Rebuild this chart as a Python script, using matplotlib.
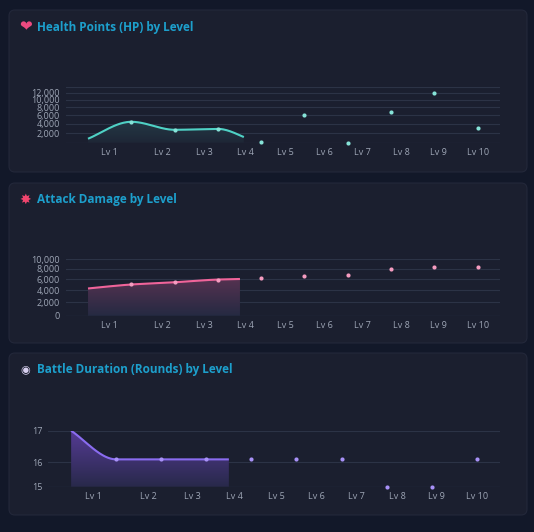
import numpy as np
import matplotlib
matplotlib.use('Agg')
import matplotlib.pyplot as plt
from matplotlib.patches import FancyBboxPatch, PathPatch
from matplotlib.colors import LinearSegmentedColormap

# data
levels = ['Lv 1', 'Lv 2', 'Lv 3', 'Lv 4', 'Lv 5', 'Lv 6', 'Lv 7', 'Lv 8', 'Lv 9', 'Lv 10']
hp = [800, 4500, 2700, 2900, 200, 6100, 0, 6900, 11900, 3100]
attack = [4300, 5000, 5400, 5900, 6100, 6600, 6700, 7900, 8400, 8400]
duration = [17, 16.1, 16.1, 16.1, 16.1, 16.1, 16.1, 15, 15, 16.1]

hp_ticks = [2000, 4000, 6000, 8000, 10000, 12000]
attack_ticks = [0, 2000, 4000, 6000, 8000, 10000]
duration_ticks = [15, 16, 17]

# layout (pixels)
W, H = 534, 532
BG = '#121829'
PANEL = '#1b1f2f'
GRID = '#2c3346'
TXT = '#9ea6b6'
TITLE = '#1d9fcc'
tick_pos = [0.5, 1.72, 2.68, 3.63, 4.55, 5.45, 6.34, 7.23, 8.1, 9.0]

plt.rcParams['font.family'] = ['Open Sans', 'DejaVu Sans']

fig = plt.figure(figsize=(W / 100, H / 100), dpi=100, facecolor=BG)
bg = fig.add_axes([0, 0, 1, 1])
bg.set_xlim(0, W)
bg.set_ylim(H, 0)
bg.axis('off')


def monotone(xs, ys, n=40):
    # monotone cubic (like d3 curveMonotoneX), only for drawing the line
    xs = np.asarray(xs, float)
    ys = np.asarray(ys, float)
    h = np.diff(xs)
    d = np.diff(ys) / h
    m = np.zeros_like(ys)
    m[0], m[-1] = d[0], d[-1]
    for i in range(1, len(ys) - 1):
        if d[i - 1] * d[i] > 0:
            m[i] = 3 * (h[i - 1] + h[i]) / ((2 * h[i] + h[i - 1]) / d[i - 1] + (h[i] + 2 * h[i - 1]) / d[i])
    px, py = [], []
    for i in range(len(h)):
        t = np.linspace(0, 1, n)
        h00 = 2 * t**3 - 3 * t**2 + 1
        h10 = t**3 - 2 * t**2 + t
        h01 = -2 * t**3 + 3 * t**2
        h11 = t**3 - t**2
        px.append(xs[i] + t * h[i])
        py.append(h00 * ys[i] + h10 * h[i] * m[i] + h01 * ys[i + 1] + h11 * h[i] * m[i + 1])
    return np.concatenate(px), np.concatenate(py)


def panel(y0, y1, title, icon, icon_color, icon_size):
    bg.add_patch(FancyBboxPatch((9, y0), 518, y1 - y0, boxstyle='round,pad=0,rounding_size=6',
                                fc=PANEL, ec='#23283a', lw=0.8))
    ty = y0 + 17
    bg.text(25.5, ty, icon, color=icon_color, fontsize=icon_size, ha='center', va='center',
            family=['DejaVu Sans', 'Noto Sans CJK SC', 'Noto Sans'])
    bg.text(37, ty, title, color=TITLE, fontsize=8.5, fontweight='bold', ha='left', va='center')


def make_ax(left, right, top, bottom):
    ax = fig.add_axes([left / W, 1 - bottom / H, (right - left) / W, (bottom - top) / H])
    ax.set_facecolor('none')
    for s in ax.spines.values():
        s.set_visible(False)
    ax.set_xlim(-0.52, 9.51)
    ax.set_xticks(tick_pos)
    ax.set_xticklabels(levels)
    ax.tick_params(axis='both', length=0, colors=TXT, labelsize=6.5)
    ax.tick_params(axis='x', pad=4)
    ax.tick_params(axis='y', pad=4)
    ax.grid(axis='y', color=GRID, lw=0.8)
    ax.set_axisbelow(True)
    return ax


def draw_series(ax, vals, color, marker_color, stop, fill_top, fill_bottom):
    x = np.arange(len(vals))
    sx, sy = monotone(x, vals)
    base = ax.get_ylim()[0]
    keep = sx <= stop
    fx = np.append(sx[keep], stop)
    fy = np.append(sy[keep], np.interp(stop, sx, sy))
    poly = ax.fill_between(fx, fy, base, color='none', lw=0)
    cmap = LinearSegmentedColormap.from_list('g', [fill_bottom, fill_top])
    grad = np.linspace(0, 1, 256).reshape(-1, 1)
    im = ax.imshow(grad, cmap=cmap, aspect='auto', extent=(0, 1, 0, 1), origin='lower',
                   transform=ax.transAxes, zorder=1)
    pp = PathPatch(poly.get_paths()[0], transform=ax.transData, visible=False)
    ax.add_patch(pp)
    im.set_clip_path(pp)
    ax.plot(fx, fy, color=color, lw=1.5, zorder=3, solid_capstyle='butt')
    ax.scatter(x[1:], vals[1:], s=9, color=marker_color, zorder=4, lw=0, clip_on=False)


# HP panel
panel(10, 172, 'Health Points (HP) by Level', '\u2764', '#ec4a80', 11)
k1 = 29000
ax1 = make_ax(65.5, 499.7, 87.3, 142.7)
ax1.set_yscale('function', functions=(lambda v: np.log1p(np.maximum(v, 0) / k1),
                                      lambda u: k1 * np.expm1(u)))
ax1.set_ylim(0, 13500)
ax1.set_yticks(hp_ticks)
ax1.set_yticklabels([f'{t:,}' for t in hp_ticks])
ax1.axhline(13500, color=GRID, lw=0.8, zorder=0)
ax1.axhline(0, color='#3a4256', lw=0.8, zorder=0)
draw_series(ax1, hp, '#4fd1c5', '#86e3d8', 3.6, '#2c565d', '#1e2636')

# Attack panel
panel(183, 343, 'Attack Damage by Level', '\u2738', '#f0456e', 10)
k2 = 20000
ax2 = make_ax(65.5, 499.7, 259, 315.7)
ax2.set_yscale('function', functions=(lambda v: np.log1p(np.maximum(v, 0) / k2),
                                      lambda u: k2 * np.expm1(u)))
ax2.set_ylim(0, 10000)
ax2.set_yticks(attack_ticks)
ax2.set_yticklabels([f'{t:,}' for t in attack_ticks])
ax2.axhline(0, color='#3a4256', lw=0.8, zorder=0)
draw_series(ax2, attack, '#f0649a', '#f59cc0', 3.51, '#6e3658', '#252a42')

# Duration panel
panel(353, 515, 'Battle Duration (Rounds) by Level', '\u25c9', '#d8d0f0', 8)
ax3 = make_ax(47.7, 499.7, 430.7, 486.7)
ax3.set_yscale('function', functions=(lambda v: np.maximum(v - 15, 0) ** 1.2,
                                      lambda u: 15 + np.maximum(u, 0) ** (1 / 1.2)))
ax3.set_ylim(15, 17)
ax3.set_yticks(duration_ticks)
ax3.set_yticklabels([str(t) for t in duration_ticks])
ax3.axhline(15, color='#3a4256', lw=0.8, zorder=0)
draw_series(ax3, duration, '#8a6cf0', '#a891f7', 3.5, '#553b94', '#28294a')

fig.savefig('out.png', dpi=100, facecolor=BG)
